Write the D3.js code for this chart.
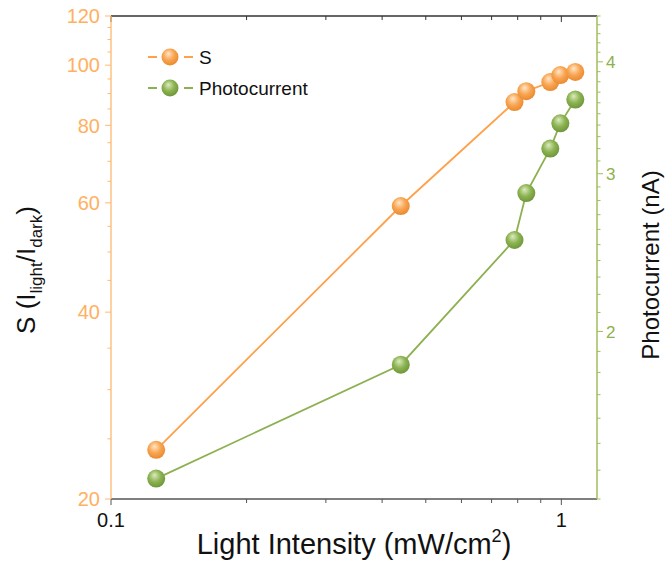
<!DOCTYPE html>
<html>
<head>
<meta charset="utf-8">
<script src="https://cdn.jsdelivr.net/npm/d3@7"></script>
<style>
  html, body { margin: 0; padding: 0; background: #fff; }
  svg { display: block; font-family: "Liberation Sans", Arial, sans-serif; }
</style>
</head>
<body>
<svg id="chart" width="665" height="571"></svg>
<script>
// ---- data ----
const intensity = [0.126, 0.44, 0.787, 0.836, 0.945, 0.995, 1.074];
const sValues = [24.0, 59.3, 87.2, 90.8, 93.9, 96.4, 97.5];
const photocurrent = [1.37, 1.836, 2.53, 2.854, 3.20, 3.415, 3.63];
const xTickLabels = [0.1, 1];
const leftTickLabels = [20, 40, 60, 80, 100, 120];
const rightTickLabels = [2, 3, 4];
const seriesNames = ["S", "Photocurrent"];

// ---- layout ----
const svg = d3.select("#chart");
const L = 111, T = 16, R = 597, B = 499;
const orange = "#FFA04A", orangeText = "#FFB060", orangeAxis = "#FFB870";
const green = "#8DB050", greenText = "#8FB04A", greenAxis = "#A0BE5C";
const gray = "#555";

const x = d3.scaleLog().domain([0.1, 1.2]).range([L, R]);
const yL = d3.scaleLog().domain([20, 120]).range([B, T]);
const yR = d3.scaleLog().domain([1.3, 4.5]).range([B, T]);

// gradients
const defs = svg.append("defs");
function grad(id, light, base, dark) {
  const g = defs.append("radialGradient").attr("id", id)
    .attr("cx", "45%").attr("cy", "40%").attr("r", "60%").attr("fx", "40%").attr("fy", "30%");
  g.append("stop").attr("offset", "0%").attr("stop-color", light);
  g.append("stop").attr("offset", "55%").attr("stop-color", base);
  g.append("stop").attr("offset", "100%").attr("stop-color", dark);
}
grad("gO", "#FFE6C8", "#F9A552", "#E98A30");
grad("gG", "#DCEBC0", "#8DB452", "#6E963A");

// minor tick arrays
const xMinor = d3.range(2, 10).map(d => d / 10);
const leftMinor = d3.range(25, 120, 5).filter(d => d % 20 !== 0);
const rightMinor = d3.range(13, 46).map(d => d / 10).filter(d => !rightTickLabels.includes(d));

// bottom axis
const gB = svg.append("g").attr("transform", `translate(0,${B})`);
gB.append("line").attr("x1", L).attr("x2", R).attr("stroke", gray).attr("stroke-width", 1.3);
gB.selectAll(".mj").data(xTickLabels).join("line")
  .attr("x1", d => x(d)).attr("x2", d => x(d)).attr("y1", 0).attr("y2", 6).attr("stroke", gray);
gB.selectAll(".mn").data(xMinor).join("line").attr("class", "mn")
  .attr("x1", d => x(d)).attr("x2", d => x(d)).attr("y1", 0).attr("y2", 4).attr("stroke", gray);
gB.selectAll("text").data(xTickLabels).join("text")
  .attr("x", d => x(d)).attr("y", 28).attr("text-anchor", "middle")
  .attr("font-size", 20).attr("fill", "#111").text(d => d);

// top axis
const gT = svg.append("g").attr("transform", `translate(0,${T})`);
gT.append("line").attr("x1", L).attr("x2", R).attr("stroke", "#333").attr("stroke-width", 1.3);
gT.selectAll(".mj").data(xTickLabels).join("line")
  .attr("x1", d => x(d)).attr("x2", d => x(d)).attr("y1", 0).attr("y2", 6).attr("stroke", "#333");
gT.selectAll(".mn").data(xMinor).join("line").attr("class", "mn")
  .attr("x1", d => x(d)).attr("x2", d => x(d)).attr("y1", 0).attr("y2", 4).attr("stroke", "#333");

// left axis
const gL = svg.append("g");
gL.append("line").attr("x1", L).attr("x2", L).attr("y1", T).attr("y2", B).attr("stroke", orangeAxis).attr("stroke-width", 1.3);
gL.selectAll(".mj").data(leftTickLabels).join("line")
  .attr("x1", L - 6).attr("x2", L).attr("y1", d => yL(d)).attr("y2", d => yL(d)).attr("stroke", orangeAxis);
gL.selectAll(".mn").data(leftMinor).join("line").attr("class", "mn")
  .attr("x1", L - 3.5).attr("x2", L).attr("y1", d => yL(d)).attr("y2", d => yL(d)).attr("stroke", orangeAxis);
gL.selectAll("text").data(leftTickLabels).join("text")
  .attr("x", L - 11).attr("y", d => yL(d)).attr("dy", "0.36em").attr("text-anchor", "end")
  .attr("font-size", 20).attr("fill", orangeText).text(d => d);

// right axis
const gR = svg.append("g");
gR.append("line").attr("x1", R).attr("x2", R).attr("y1", T).attr("y2", B).attr("stroke", greenAxis).attr("stroke-width", 1.5);
gR.selectAll(".mj").data(rightTickLabels).join("line")
  .attr("x1", R).attr("x2", R + 6).attr("y1", d => yR(d)).attr("y2", d => yR(d)).attr("stroke", greenAxis);
gR.selectAll(".mn").data(rightMinor).join("line").attr("class", "mn")
  .attr("x1", R).attr("x2", R + 3.5).attr("y1", d => yR(d)).attr("y2", d => yR(d)).attr("stroke", greenAxis);
gR.selectAll("text").data(rightTickLabels).join("text")
  .attr("x", R + 9).attr("y", d => yR(d)).attr("dy", "0.36em").attr("text-anchor", "start")
  .attr("font-size", 17).attr("fill", greenText).text(d => d);

// titles
const xt = svg.append("text").attr("x", (196 + 512) / 2).attr("y", 554).attr("text-anchor", "middle")
  .attr("font-size", 29).attr("fill", "#111");
xt.append("tspan").text("Light Intensity (mW/cm");
xt.append("tspan").attr("font-size", 18).attr("dy", -12).text("2");
xt.append("tspan").attr("dy", 12).text(")");

const lt = svg.append("text").attr("transform", "translate(35,270) rotate(-90)").attr("text-anchor", "middle")
  .attr("font-size", 26).attr("fill", "#111");
lt.append("tspan").text("S (I");
lt.append("tspan").attr("font-size", 17).attr("dy", 7).text("light");
lt.append("tspan").attr("dy", -7).text("/I");
lt.append("tspan").attr("font-size", 17).attr("dy", 7).text("dark");
lt.append("tspan").attr("dy", -7).text(")");

svg.append("text").attr("transform", "translate(659,265) rotate(-90)").attr("text-anchor", "middle")
  .attr("font-size", 24).attr("fill", "#111").text("Photocurrent (nA)");

// series
const series = [
  { name: seriesNames[0], vals: sValues, y: yL, color: orange, fill: "url(#gO)" },
  { name: seriesNames[1], vals: photocurrent, y: yR, color: green, fill: "url(#gG)" }
];
series.forEach(s => {
  const line = d3.line().x((d, i) => x(intensity[i])).y(d => s.y(d));
  svg.append("path").datum(s.vals).attr("d", line).attr("fill", "none")
    .attr("stroke", s.color).attr("stroke-width", 1.8);
  svg.append("g").selectAll("circle").data(s.vals).join("circle")
    .attr("cx", (d, i) => x(intensity[i])).attr("cy", d => s.y(d)).attr("r", 9)
    .attr("fill", s.fill);
});

// legend
const lg = svg.append("g");
series.forEach((s, i) => {
  const cy = 57 + i * 31;
  lg.append("line").attr("x1", 148).attr("x2", 157).attr("y1", cy).attr("y2", cy).attr("stroke", s.color).attr("stroke-width", 2);
  lg.append("line").attr("x1", 184).attr("x2", 193).attr("y1", cy).attr("y2", cy).attr("stroke", s.color).attr("stroke-width", 2);
  lg.append("circle").attr("cx", 170).attr("cy", cy).attr("r", 8.5).attr("fill", s.fill);
  lg.append("text").attr("x", 199).attr("y", cy).attr("dy", "0.36em").attr("font-size", 19)
    .attr("fill", "#111").text(s.name);
});
</script>
</body>
</html>
